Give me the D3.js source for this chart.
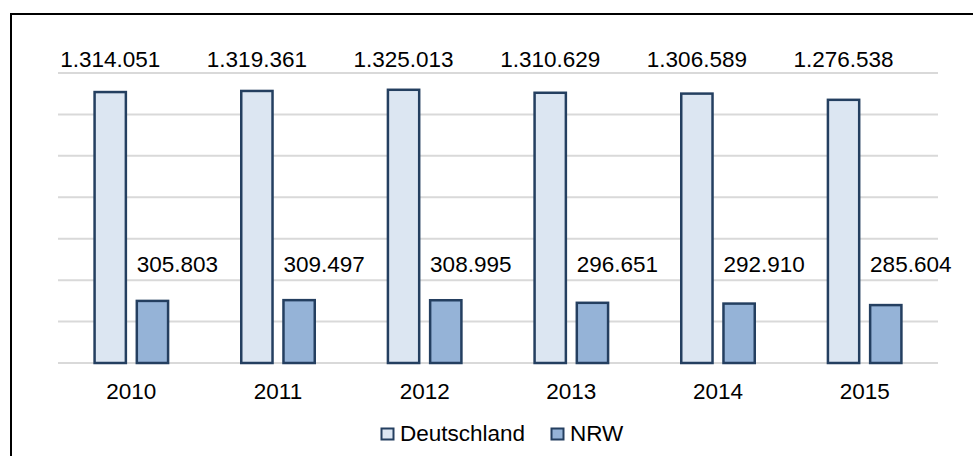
<!DOCTYPE html>
<html>
<head>
<meta charset="utf-8">
<script src="https://cdn.jsdelivr.net/npm/d3@7/dist/d3.min.js"></script>
<style>
  html, body { margin: 0; padding: 0; background: #fff; }
  svg { display: block; font-family: "Liberation Sans", Arial, sans-serif; }
</style>
</head>
<body>
<svg id="chart" width="973" height="456"></svg>
<script>
// Schülerzahlen Deutschland vs. NRW, 2010–2015
const years = ["2010", "2011", "2012", "2013", "2014", "2015"];
const seriesNames = ["Deutschland", "NRW"];
const deutschland = [1314051, 1319361, 1325013, 1310629, 1306589, 1276538];
const nrw = [305803, 309497, 308995, 296651, 292910, 285604];
const gridValues = [0, 200000, 400000, 600000, 800000, 1000000, 1200000, 1400000];

const fills = { "Deutschland": "#dce6f2", "NRW": "#95b3d7" };
const strokeColor = "#243f60";
const sw = 2.5;

const svg = d3.select("#chart");
const fmt = v => d3.format(",")(v).replace(/,/g, ".");

// Outer frame
svg.append("rect")
  .attr("x", 11).attr("y", 14)
  .attr("width", 990).attr("height", 470)
  .attr("fill", "none").attr("stroke", "#000").attr("stroke-width", 2);

const plot = { left: 58, right: 938, top: 73, bottom: 363 };

const y = d3.scaleLinear().domain([0, 1400000]).range([plot.bottom, plot.top]);
const x0 = d3.scaleBand().domain(years).range([plot.left, plot.right]).padding(0);
const x1 = d3.scaleBand().domain(seriesNames).range([-38, 38]).paddingInner(0.2).paddingOuter(0);

// Horizontal gridlines
svg.append("g").selectAll("line")
  .data(gridValues)
  .join("line")
  .attr("x1", plot.left).attr("x2", plot.right)
  .attr("y1", d => y(d)).attr("y2", d => y(d))
  .attr("stroke", "#d9d9d9").attr("stroke-width", 2);

const rows = years.map((yr, i) => ({ year: yr, values: [
  { key: "Deutschland", value: deutschland[i] },
  { key: "NRW", value: nrw[i] }
]}));

const groups = svg.append("g").selectAll("g")
  .data(rows)
  .join("g")
  .attr("transform", d => `translate(${x0(d.year) + x0.bandwidth() / 2},0)`);

groups.selectAll("rect")
  .data(d => d.values)
  .join("rect")
  .attr("x", d => x1(d.key) + sw / 2)
  .attr("width", x1.bandwidth() - sw)
  .attr("y", d => y(d.value) + sw / 2)
  .attr("height", d => y(0) - y(d.value) - sw / 2)
  .attr("fill", d => fills[d.key])
  .attr("stroke", strokeColor)
  .attr("stroke-width", sw);

// Value labels
groups.append("text")
  .attr("x", x1("Deutschland") + x1.bandwidth() / 2)
  .attr("y", 67)
  .attr("text-anchor", "middle")
  .attr("font-size", 22.5)
  .attr("fill", "#000")
  .text((d, i) => fmt(deutschland[i]));

groups.append("text")
  .attr("x", x1("NRW") + x1.bandwidth() / 2 + 25)
  .attr("y", 272)
  .attr("text-anchor", "middle")
  .attr("font-size", 22.5)
  .attr("fill", "#000")
  .text((d, i) => fmt(nrw[i]));

// Category axis labels
svg.append("g").selectAll("text")
  .data(years)
  .join("text")
  .attr("x", d => x0(d) + x0.bandwidth() / 2)
  .attr("y", 399)
  .attr("text-anchor", "middle")
  .attr("font-size", 22.5)
  .attr("fill", "#000")
  .text(d => d);

// Legend
const legend = svg.append("g");
const legendItems = [
  { key: "Deutschland", x: 381 },
  { key: "NRW", x: 551 }
];
const li = legend.selectAll("g").data(legendItems).join("g")
  .attr("transform", d => `translate(${d.x},428)`);
li.append("rect")
  .attr("x", 0.5).attr("y", 0.5)
  .attr("width", 12).attr("height", 11)
  .attr("fill", d => fills[d.key])
  .attr("stroke", strokeColor).attr("stroke-width", 2);
li.append("text")
  .attr("x", 19).attr("y", 13)
  .attr("font-size", 22.5)
  .attr("fill", "#000")
  .text(d => d.key);
</script>
</body>
</html>
